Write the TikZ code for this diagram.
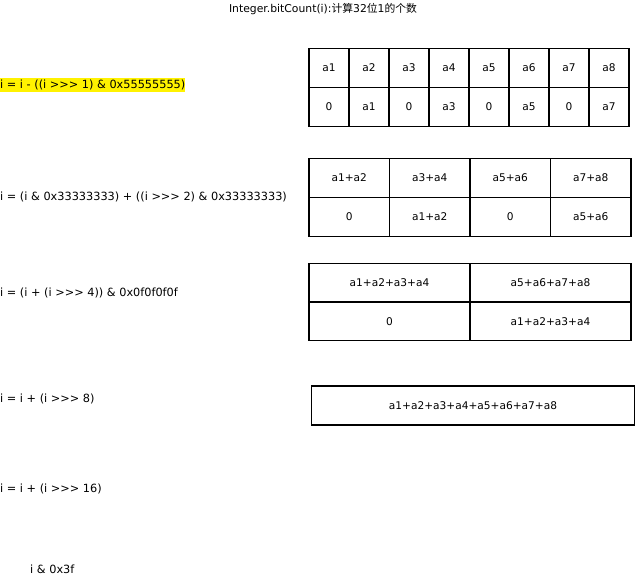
\documentclass[tikz,border=0pt]{standalone}
\usepackage{fontspec}
\setmainfont{DejaVu Sans}[Ligatures=ResetAll]
\newfontfamily\cjk{Noto Sans CJK SC}
\tikzset{
  cell/.style={draw, line width=1.5pt, minimum height=39pt, inner sep=0pt},
  step1/.style={anchor=west, inner sep=0pt, font=\fontsize{11.3}{14}\selectfont}
}
\begin{document}
\begin{tikzpicture}[x=1pt, y=-1pt, font=\fontsize{10.6}{12}\selectfont]
        \useasboundingbox (0,0) rectangle (636,576);
        % title
        \node[font=\fontsize{10.8}{13}\selectfont] (title) at (323,9) {Integer.bitCount(i):{\cjk 计算}32{\cjk 位}1{\cjk 的个数}};
        % steps
        \node[step1, fill=yellow, inner ysep=2pt] (s1) at (0,85) {i = i - ((i >{}>{}> 1) \& 0x55555555)};
        \node[step1] (s2) at (0,197) {i = (i \& 0x33333333) + ((i >{}>{}> 2) \& 0x33333333)};
        \node[step1] (s3) at (0,293) {i = (i + (i >{}>{}> 4)) \& 0x0f0f0f0f};
        \node[step1] (s4) at (0,399) {i = i + (i >{}>{}> 8)};
        \node[step1] (s5) at (0,489) {i = i + (i >{}>{}> 16)};
        \node[step1] (s6) at (30,569) {i \& 0x3f};
        % table 1
        \node[cell, minimum width=40pt] (a1) at (329,68) {a1};
        \node[cell, minimum width=40pt] (a2) at (369,68) {a2};
        \node[cell, minimum width=40pt] (a3) at (409,68) {a3};
        \node[cell, minimum width=40pt] (a4) at (449,68) {a4};
        \node[cell, minimum width=40pt] (a5) at (489,68) {a5};
        \node[cell, minimum width=40pt] (a6) at (529,68) {a6};
        \node[cell, minimum width=40pt] (a7) at (569,68) {a7};
        \node[cell, minimum width=40pt] (a8) at (609,68) {a8};
        \node[cell, minimum width=40pt] (b1) at (329,107) {0};
        \node[cell, minimum width=40pt] (b2) at (369,107) {a1};
        \node[cell, minimum width=40pt] (b3) at (409,107) {0};
        \node[cell, minimum width=40pt] (b4) at (449,107) {a3};
        \node[cell, minimum width=40pt] (b5) at (489,107) {0};
        \node[cell, minimum width=40pt] (b6) at (529,107) {a5};
        \node[cell, minimum width=40pt] (b7) at (569,107) {0};
        \node[cell, minimum width=40pt] (b8) at (609,107) {a7};
        % table 2
        \node[cell, minimum width=80.5pt] (c1) at (349.25,178) {a1+a2};
        \node[cell, minimum width=80.5pt] (c2) at (429.75,178) {a3+a4};
        \node[cell, minimum width=80.5pt] (c3) at (510.25,178) {a5+a6};
        \node[cell, minimum width=80.5pt] (c4) at (590.75,178) {a7+a8};
        \node[cell, minimum width=80.5pt] (d1) at (349.25,217) {0};
        \node[cell, minimum width=80.5pt] (d2) at (429.75,217) {a1+a2};
        \node[cell, minimum width=80.5pt] (d3) at (510.25,217) {0};
        \node[cell, minimum width=80.5pt] (d4) at (590.75,217) {a5+a6};
        % table 3
        \node[cell, minimum width=161pt, minimum height=38.5pt] (e1) at (389.5,282.75) {a1+a2+a3+a4};
        \node[cell, minimum width=161pt, minimum height=38.5pt] (e2) at (550.5,282.75) {a5+a6+a7+a8};
        \node[cell, minimum width=161pt, minimum height=38.5pt] (f1) at (389.5,321.25) {0};
        \node[cell, minimum width=161pt, minimum height=38.5pt] (f2) at (550.5,321.25) {a1+a2+a3+a4};
        % table 4
        \node[cell, minimum width=323pt] (g1) at (473,405.5) {a1+a2+a3+a4+a5+a6+a7+a8};
    \end{tikzpicture}
\end{document}
